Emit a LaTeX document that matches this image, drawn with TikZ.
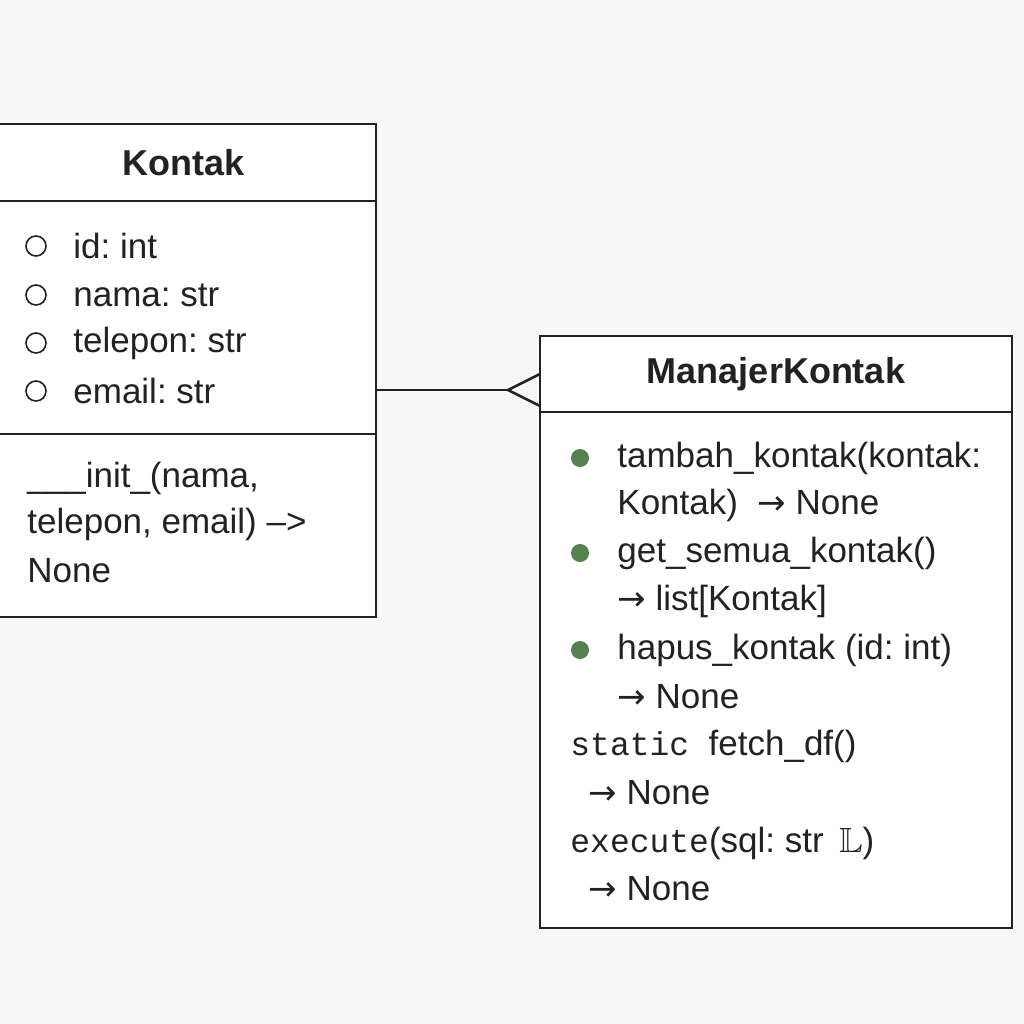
\documentclass[tikz,border=0pt]{standalone}
\usepackage{amssymb}
\usepackage{fontspec}
\setmainfont{Liberation Sans}
\setmonofont{Liberation Mono}
\newfontfamily\arrowfont{DejaVu Sans}
\definecolor{paper}{RGB}{248,248,248}
\definecolor{dotgreen}{RGB}{86,128,80}
\definecolor{ink}{RGB}{34,34,34}
\frenchspacing
\tikzset{
  classbox/.style = {rectangle, draw=ink, fill=white, line width=1.4pt,
    inner sep=0pt},% kotak kelas
  classtitle/.style = {font=\fontsize{18}{22}\selectfont\bfseries, text=ink},
  member/.style = {anchor=west, inner sep=0pt, text=ink,
    font=\fontsize{17.5}{24}\selectfont},% baris anggota
  attrmark/.style = {circle, draw=ink, line width=0.8pt, fill=white,
    minimum size=10pt, inner sep=0pt},% atribut, bulat kosong
  opmark/.style = {circle, fill=dotgreen, minimum size=9pt, inner sep=0pt},% operasi, bulat hijau
  link/.style = {draw=ink, line width=1.3pt, line join=miter},
}
\newcommand{\ret}{{\arrowfont\fontsize{17}{20}\selectfont →}}
\newcommand{\kw}[1]{{\ttfamily\fontsize{16.5}{24}\selectfont #1}}

\begin{document}
\begin{tikzpicture}[x=0.5pt,y=-0.5pt]
  \clip (0,0) rectangle (1024,1024);
  \fill[paper] (0,0) rectangle (1024,1024);
%   kelas Kontak
  \node[classbox, classtitle, minimum width=192pt, minimum height=38.5pt] (kontakTitle) at (184,162.5) {Kontak};
  \node[classbox, minimum width=192pt, minimum height=116.5pt] (kontakAttr) at (184,317.5) {};
  \node[classbox, minimum width=192pt, minimum height=91.5pt] (kontakOps) at (184,525.5) {};

  \node[attrmark] (m1) at (36,246) {};
  \node[attrmark] (m2) at (36,295) {};
  \node[attrmark] (m3) at (36,343) {};
  \node[attrmark] (m4) at (36,391) {};
  \node[member] (a1) at (73,246) {id: int};
  \node[member] (a2) at (73,295) {nama: str};
  \node[member] (a3) at (73,343) {telepon: str};
  \node[member] (a4) at (73,391) {email: str};

  \node[member] (k1) at (27,478) {\_\_\_init\_(nama,};
  \node[member] (k2) at (27,524) {telepon, email) –>};
  \node[member] (k3) at (27,571) {None};

%   kelas ManajerKontak
  \node[classbox, classtitle, minimum width=236pt, minimum height=38pt] (manajerTitle) at (776,374) {ManajerKontak};
  \node[classbox, minimum width=236pt, minimum height=258pt] (manajerOps) at (776,670) {};

  \node[opmark] (d1) at (580,458) {};
  \node[opmark] (d2) at (580,553) {};
  \node[opmark] (d3) at (580,650) {};
  \node[member] (o1) at (617,458) {tambah\_kontak(kontak:};
  \node[member] (o2) at (617,505) {Kontak)\ \ \ret\ None};
  \node[member] (o3) at (617,553) {get\_semua\_kontak()};
  \node[member] (o4) at (617,601) {\ret\ list[Kontak]};
  \node[member] (o5) at (617,650) {hapus\_kontak (id: int)};
  \node[member] (o6) at (617,697) {\ret\ None};
  \node[member] (o7) at (570,746) {\kw{static}\ \ fetch\_df()};
  \node[member] (o8) at (588,793) {\ret\ None};
  \node[member] (o9) at (570,843) {\kw{execute}(sql: str \,$\mathbb{L}$)};
  \node[member] (o10) at (588,889) {\ret\ None};

%   relasi
  \coordinate (crowTip) at (508,390);
  \coordinate (crowUp) at (540,374);
  \coordinate (crowDown) at (540,406);
  \draw[link] (kontakAttr.east |- crowTip) -- (crowTip);
  \draw[link] (crowUp) -- (crowTip) -- (crowDown);
\end{tikzpicture}
\end{document}
